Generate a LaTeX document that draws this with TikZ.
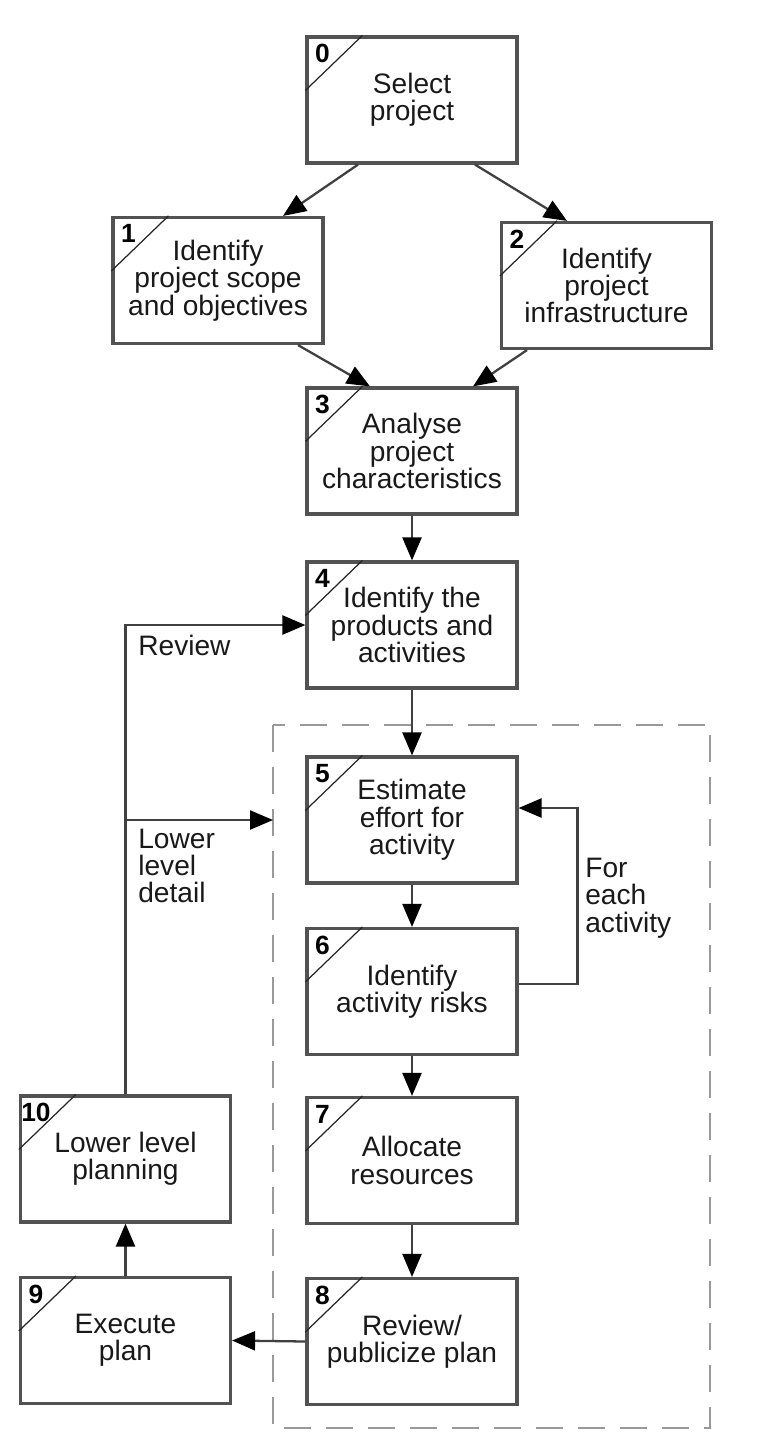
\documentclass[tikz,border=0pt]{standalone}
\usepackage{fontspec}
\setmainfont{Liberation Sans}
\usetikzlibrary{arrows.meta}

\begin{document}
\begin{tikzpicture}[
		schritt/.style={rectangle, draw=black!68, line width=1.8pt, minimum width=4.2cm, minimum height=2.52cm, inner sep=0pt, align=center, text=black!90, font=\fontsize{16}{15.6}\selectfont},
		pfeil/.style={draw=black!75, line width=1.3pt, -{Triangle[length=0.46cm,width=0.38cm,color=black]}},
		rahmen/.style={draw=black!40, line width=1.1pt, dash pattern=on 0.54cm off 0.3cm},
		marke/.style={inner sep=0pt, font=\bfseries\fontsize{15}{15}\selectfont},
		beschr/.style={anchor=west, align=left, inner sep=0pt, text=black!90, font=\fontsize{16}{15.6}\selectfont}
	]
		%Hintergrund
		\fill [white] (0,0) rectangle (15.64,-29);
		\useasboundingbox (0,0) rectangle (15.64,-29);
		% Rahmen
		\coordinate (rl) at (5.46,-14.5);
		\draw [rahmen] (rl) rectangle (14.2,-28.56);
		% Schritte
		\node [schritt] (b0) at (8.24,-2.00) {Select\\project};
		\node [schritt] (b1) at (4.36,-5.61) {Identify\\project scope\\and objectives};
		\node [schritt] (b2) at (12.13,-5.71) {Identify\\project\\infrastructure};
		\node [schritt] (b3) at (8.24,-9.02) {Analyse\\project\\characteristics};
		\node [schritt] (b4) at (8.24,-12.50) {Identify the\\products and\\activities};
		\node [schritt] (b5) at (8.24,-16.40) {Estimate\\effort for\\activity};
		\node [schritt] (b6) at (8.24,-19.83) {Identify\\activity risks};
		\node [schritt] (b7) at (8.24,-23.21) {Allocate\\resources};
		\node [schritt] (b8) at (8.24,-26.83) {Review/\\publicize plan};
		\node [schritt] (b9) at (2.51,-26.81) {Execute\\plan};
		\node [schritt] (b10) at (2.51,-23.18) {Lower level\\planning};
		% Nummern
		\foreach \n in {0,...,10} {
			\draw [black!85, line width=0.7pt] ([yshift=-1.1cm]b\n.north west) -- ([xshift=1.14cm]b\n.north west);
			\node [marke] (nr\n) at ([xshift=0.34cm,yshift=-0.36cm]b\n.north west) {\n};
		}
		% Pfeile
		\draw [pfeil] ([xshift=-1.08cm]b0.south) -- ([xshift=1.3cm]b1.north);
		\draw [pfeil] ([xshift=1.26cm]b0.south) -- ([xshift=-0.79cm]b2.north);
		\draw [pfeil] ([xshift=1.6cm]b1.south) -- ([xshift=-0.84cm]b3.north);
		\draw [pfeil] ([xshift=-1.59cm]b2.south) -- ([xshift=1.22cm]b3.north);
		\foreach \a/\b in {3/4,4/5,5/6,6/7,7/8} {
			\draw [pfeil] (b\a.south) -- (b\b.north);
		}
		\draw [pfeil] (b8.west) -- (b9.east);
		\draw [pfeil] (b9.north) -- (b10.south);
		% Schleifen
		\draw [pfeil] ([yshift=0.15cm]b6.east) -- ++(1.18,0) |- ([yshift=0.24cm]b5.east);
		\draw [pfeil] (b10.north) |- (b4.west);
		\draw [pfeil] (b10.north |- b5.west) -- (rl |- b5.west);
		% Beschriftung
		\node [beschr] (rev) at (2.76,-12.9) {Review};
		\node [beschr] (detail) at (2.76,-17.32) {Lower\\level\\detail};
		\node [beschr] (jede) at (11.7,-17.96) {For\\each\\activity};
\end{tikzpicture}
\end{document}
